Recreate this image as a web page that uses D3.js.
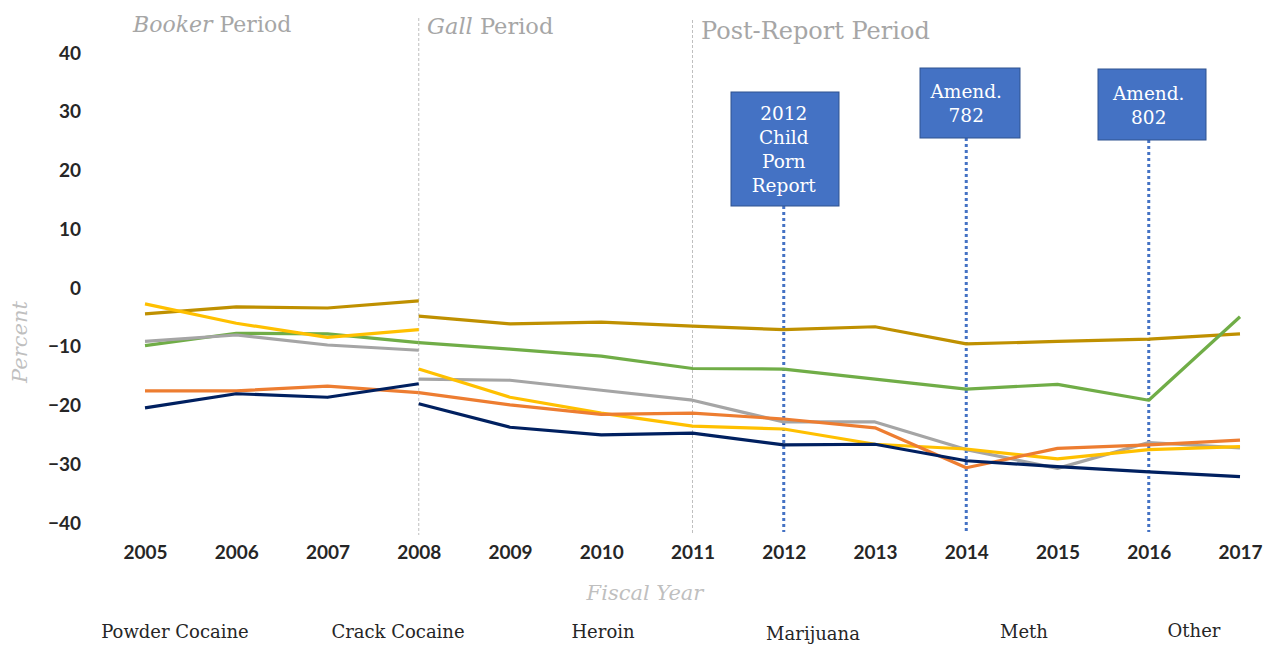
<!DOCTYPE html>
<html><head><meta charset="utf-8">
<script src="https://cdn.jsdelivr.net/npm/d3@7"></script>
<style>
html,body{margin:0;padding:0;background:#fff;}
svg{display:block;}
</style></head>
<body>
<svg id="c" width="1269" height="655"></svg>
<script>
const years = [2005,2006,2007,2008,2009,2010,2011,2012,2013,2014,2015,2016,2017];
const yTicks = [40,30,20,10,0,-10,-20,-30,-40];
const seriesNames = ["Powder Cocaine","Crack Cocaine","Heroin","Marijuana","Meth","Other"];
const seriesColors = ["#002060","#ED7D31","#A5A5A5","#FFC000","#BF9000","#70AD47"];
// Booker period values 2005-2008
const powderBooker = [-20.4,-18.0,-18.6,-16.3];
const crackBooker = [-17.5,-17.5,-16.7,-17.8];
const heroinBooker = [-9.1,-8.0,-9.7,-10.6];
const marijuanaBooker = [-2.7,-6.0,-8.4,-7.1];
const methBooker = [-4.4,-3.2,-3.4,-2.2];
const otherBooker = [-9.8,-7.7,-7.8,-9.3];
// Gall and post-report values 2008-2017
const powderGall = [-19.7,-23.7,-25.0,-24.7,-26.7,-26.6,-29.4,-30.4,-31.3,-32.1];
const crackGall = [-17.8,-19.9,-21.5,-21.3,-22.3,-23.8,-30.6,-27.3,-26.7,-25.9];
const heroinGall = [-15.5,-15.7,-17.4,-19.1,-22.8,-22.8,-27.5,-30.7,-26.3,-27.2];
const marijuanaGall = [-13.8,-18.6,-21.3,-23.5,-24.0,-26.6,-27.4,-29.1,-27.5,-27.0];
const methGall = [-4.8,-6.1,-5.8,-6.5,-7.1,-6.6,-9.5,-9.1,-8.7,-7.8];
const otherGall = [-9.3,-10.4,-11.6,-13.7,-13.8,-15.5,-17.2,-16.4,-19.1,-4.9];
const periodBreaks = [2008, 2011];
const annotations = [
  {year:2012, lines:["2012","Child","Porn","Report"]},
  {year:2014, lines:["Amend.","782"]},
  {year:2016, lines:["Amend.","802"]}
];

const booker = [powderBooker,crackBooker,heroinBooker,marijuanaBooker,methBooker,otherBooker];
const gall = [powderGall,crackGall,heroinGall,marijuanaGall,methGall,otherGall];

const svg = d3.select("#c");
const x = d3.scaleLinear().domain([2005,2017]).range([145,1240]);
const y = d3.scaleLinear().domain([-40,40]).range([523,53]);
const serif = "'DejaVu Serif', 'Liberation Serif', serif";
const sans = "Lato, 'Open Sans', sans-serif";

// period lines
periodBreaks.forEach((yr,i)=>{
  svg.append("line").attr("x1",x(yr)).attr("x2",x(yr))
    .attr("y1", i===0?18:20).attr("y2",535)
    .attr("stroke","#BFBFBF").attr("stroke-width",1).attr("stroke-dasharray","3,2");
});

// period labels
const pl1 = svg.append("text").attr("x",133).attr("y",32).attr("font-family",serif).attr("font-size",22).attr("fill","#A6A6A6");
pl1.append("tspan").attr("font-style","italic").text("Booker");
pl1.append("tspan").text(" Period");
const pl2 = svg.append("text").attr("x",427).attr("y",34).attr("font-family",serif).attr("font-size",22.5).attr("fill","#A6A6A6");
pl2.append("tspan").attr("font-style","italic").text("Gall");
pl2.append("tspan").text(" Period");
svg.append("text").attr("x",701).attr("y",39).attr("font-family",serif).attr("font-size",24).attr("fill","#A6A6A6").text("Post-Report Period");

// y axis
const yAxis = d3.axisLeft(y).tickValues(yTicks).tickSize(0).tickPadding(0);
const gy = svg.append("g").attr("transform","translate(81,0)").call(yAxis);
gy.select(".domain").remove();
gy.selectAll("text").attr("font-family",sans).attr("font-weight","bold").attr("font-size",19).attr("fill","#262626");

// x axis
const xAxis = d3.axisBottom(x).tickValues(years).tickFormat(d3.format("d")).tickSize(0).tickPadding(0);
const gx = svg.append("g").attr("transform","translate(0,545)").call(xAxis);
gx.select(".domain").remove();
gx.selectAll("text").attr("font-family",sans).attr("font-weight","bold").attr("font-size",19).attr("fill","#262626");

// axis titles
svg.append("text").attr("transform","translate(27,342) rotate(-90)").attr("text-anchor","middle")
  .attr("font-family",serif).attr("font-style","italic").attr("font-size",21).attr("fill","#BFBFBF").text("Percent");
svg.append("text").attr("x",645).attr("y",600).attr("text-anchor","middle")
  .attr("font-family",serif).attr("font-style","italic").attr("font-size",21).attr("fill","#BFBFBF").text("Fiscal Year");

// annotation dotted lines and boxes
const boxes = [
  {x0:731,x1:839,y0:92,y1:206},
  {x0:920,x1:1020,y0:68,y1:138},
  {x0:1098,x1:1206,y0:69,y1:140}
];
annotations.forEach((a,i)=>{
  const b = boxes[i];
  svg.append("line").attr("x1",x(a.year)).attr("x2",x(a.year)).attr("y1",b.y1).attr("y2",532)
    .attr("stroke","#4472C4").attr("stroke-width",3).attr("stroke-dasharray","3,3");
});

// lines
const line = d3.line().x(d=>x(d[0])).y(d=>y(d[1]));
const drawOrder = [4,5,2,3,1,0];
drawOrder.forEach(i=>{
  const b = booker[i].map((v,j)=>[years[j],v]);
  const g = gall[i].map((v,j)=>[years[j+3],v]);
  [b,g].forEach(seg=>{
    svg.append("path").datum(seg).attr("d",line).attr("fill","none")
      .attr("stroke",seriesColors[i]).attr("stroke-width",3.2).attr("stroke-linejoin","round");
  });
});

annotations.forEach((a,i)=>{
  const b = boxes[i];
  svg.append("rect").attr("x",b.x0).attr("y",b.y0).attr("width",b.x1-b.x0).attr("height",b.y1-b.y0)
    .attr("fill","#4472C4").attr("stroke","#2F528F").attr("stroke-width",1);
  const n = a.lines.length;
  const cy = (b.y0+b.y1)/2;
  a.lines.forEach((t,k)=>{
    svg.append("text").attr("x",x(a.year)).attr("y",cy + (k-(n-1)/2)*24 + 7)
      .attr("text-anchor","middle").attr("font-family",serif).attr("font-size",18.5).attr("fill","#fff").text(t);
  });
});

// legend (text only)
const legendX = [175,398,603,813,1024,1194];
const legendY = [638,638,638,640,638,637];
seriesNames.forEach((n,i)=>{
  svg.append("text").attr("x",legendX[i]).attr("y",legendY[i]).attr("text-anchor","middle")
    .attr("font-family",serif).attr("font-size",18).attr("fill","#262626").text(n);
});
</script>
</body></html>
